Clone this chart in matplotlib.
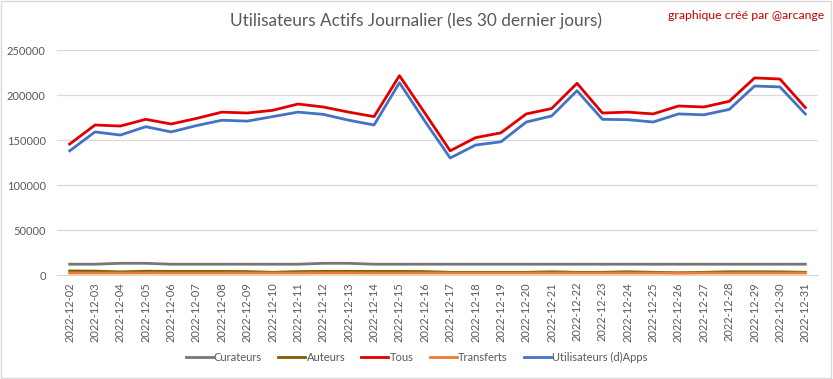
import numpy as np
import matplotlib
matplotlib.use('Agg')
from matplotlib import pyplot as plt

plt.rcParams['font.family'] = ['Lato', 'DejaVu Sans']

# data
dates = ['2022-12-%02d' % d for d in range(2, 32)]

curateurs = [12000, 12000, 13000, 13000, 12000, 12000, 12000, 12000, 12000, 12000,
             13000, 13000, 12000, 12000, 12000, 12000, 12000, 12000, 12000, 12000,
             12000, 12000, 12000, 12000, 12000, 12000, 12000, 12000, 12000, 12000]
auteurs = [4500, 4300, 3500, 4200, 4000, 4000, 4000, 3800, 3000, 3800,
           4000, 4000, 4000, 4000, 3800, 3000, 3000, 3000, 3000, 3600,
           3000, 3000, 3600, 3000, 2500, 3000, 3600, 3600, 3500, 3000]
tous = [145500, 166700, 165500, 173000, 167800, 174000, 181000, 180000, 183000, 190000,
        186700, 181000, 176000, 221500, 180000, 138000, 152600, 158000, 179000, 185000,
        213000, 180000, 181000, 179000, 187800, 186700, 193000, 219000, 217800, 186000]
transferts = [2200, 2200, 2200, 2300, 2200, 2200, 2200, 2200, 2200, 2200,
              2300, 2300, 2200, 2200, 2200, 2200, 2200, 2200, 2200, 2200,
              2200, 2200, 2200, 2200, 2000, 2200, 2200, 2200, 2200, 2200]
dapps = [138000, 159000, 155500, 164800, 159000, 166000, 172000, 171000, 176000, 181000,
         178500, 172000, 166700, 213700, 171000, 130000, 144400, 148000, 170000, 176700,
         204800, 173000, 172600, 170000, 179000, 178000, 184000, 210000, 209000, 179000]

series = [('Curateurs', curateurs, '#767676'),
          ('Auteurs', auteurs, '#7F6000'),
          ('Tous', tous, '#E00000'),
          ('Transferts', transferts, '#ED7D31'),
          ('Utilisateurs (d)Apps', dapps, '#4472C4')]

fig = plt.figure(figsize=(8.33, 3.79), dpi=100)
ax = fig.add_axes([0.0684, 0.2744, 0.9136, 0.5936])

x = np.arange(len(dates))
for name, vals, col in series:
    ax.plot(x, vals, color=col, lw=2, label=name)

ax.set_xlim(-0.5, len(dates) - 0.5)
ax.set_ylim(0, 250000)
ax.set_yticks(np.arange(0, 250001, 50000))
ax.set_yticklabels([str(v) for v in range(0, 250001, 50000)])
ax.set_xticks(x)
ax.set_xticklabels(dates, rotation=90)
ax.tick_params(length=0, colors='#595959', labelsize=8)
ax.tick_params(axis='y', pad=8)
ax.tick_params(axis='x', pad=5)

ax.grid(axis='y', color='#D9D9D9', lw=0.9)
ax.set_axisbelow(True)
for s in ['top', 'right', 'left']:
    ax.spines[s].set_visible(False)
ax.spines['bottom'].set_color('#D9D9D9')

fig.text(0.5, 0.945, 'Utilisateurs Actifs Journalier (les 30 dernier jours)',
         ha='center', va='center', fontsize=12.4, color='#595959')
fig.text(0.99, 0.96, 'graphique créé par @arcange', ha='right', va='center',
         fontsize=8.8, color='#C00000')

leg = fig.legend(loc='center', bbox_to_anchor=(0.5, 0.058), ncol=5, frameon=False,
                 fontsize=8, handlelength=2.45, handletextpad=0.1, columnspacing=1.45)
for t in leg.get_texts():
    t.set_color('#595959')

fig.patches.append(plt.Rectangle((0.001, 0.002), 0.997, 0.995, transform=fig.transFigure,
                                 fill=False, edgecolor='#D9D9D9', lw=1))

fig.savefig('out.png', dpi=100)
